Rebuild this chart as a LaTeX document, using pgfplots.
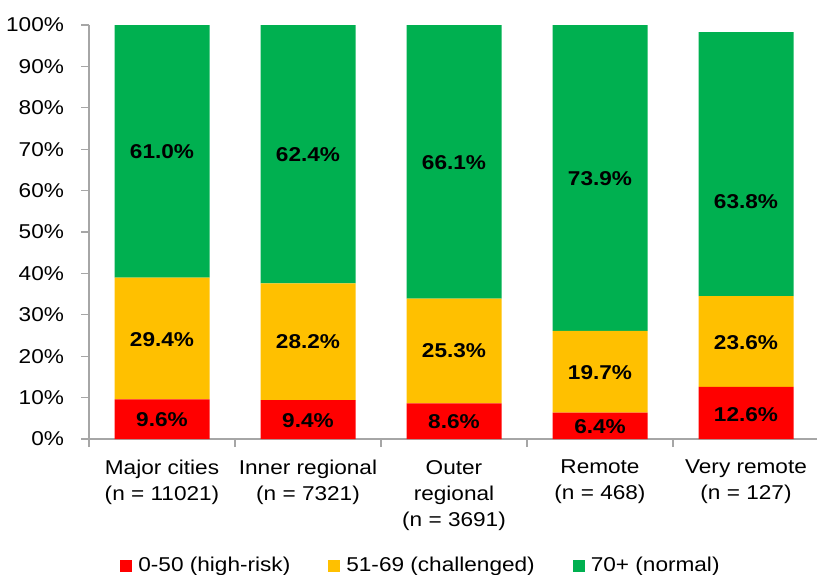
\documentclass[border=0pt]{standalone}
\usepackage{pgfplots}
\pgfplotsset{compat=1.18}
\usepackage{pgfplotstable}
\usepackage{fontspec}
\setmainfont{Liberation Sans}[FakeStretch=1.13]
\definecolor{cRed}{HTML}{FF0000}
\definecolor{cYel}{HTML}{FFC000}
\definecolor{cGrn}{HTML}{00B050}
\definecolor{axgray}{HTML}{A6A6A6}

\pgfplotstableread{
x red yellow green
0 9.6 29.4 61.0
1 9.4 28.2 62.4
2 8.6 25.3 66.1
3 6.4 19.7 73.9
4 12.6 21.9 63.8
}\bars

\pgfplotstableread{
x y v
0 4.7 9.6
0 24.0 29.4
0 69.3 61.0
1 4.5 9.4
1 23.5 28.2
1 68.8 62.4
2 4.3 8.6
2 21.3 25.3
2 66.8 66.1
3 3.1 6.4
3 16.1 19.7
3 62.8 73.9
4 6.0 12.6
4 23.3 23.6
4 57.3 63.8
}\labs

\begin{document}
\fontsize{10}{13}\selectfont
\begin{tikzpicture}
\pgfplotsset{
  base/.style={
    scale only axis, width=365pt, height=207pt,
    xmin=-0.5, xmax=4.5, ymin=0, ymax=100,
  },
  sq/.style={legend image code/.code={\fill[##1] (0pt,-3pt) rectangle (6pt,3pt);}},
}
\begin{axis}[base,
  ybar stacked, bar width=47.5pt,
  axis x line=bottom, axis y line=left,
  axis line style={draw=axgray, line width=0.6pt, -},
  tick align=outside, major tick length=4pt,
  tick style={draw=axgray, line width=0.6pt},
  ytick={0,10,...,100},
  yticklabels={0\%,10\%,20\%,30\%,40\%,50\%,60\%,70\%,80\%,90\%,100\%},
  yticklabel style={font=\fontsize{10}{13}\selectfont, xshift=-5pt},
  xtick={-0.5,0.5,...,4.5}, xticklabels={},
  extra x ticks={0,1,2,3,4},
  extra x tick labels={Major cities\\(n = 11021),Inner regional\\(n = 7321),Outer\\regional\\(n = 3691),Remote\\(n = 468),Very remote\\(n = 127)},
  extra x tick style={major tick length=0pt, xticklabel style={align=center, font=\fontsize{10}{13}\selectfont, yshift=-7pt}},
  legend style={draw=none, at={(0.4575,-0.307)}, anchor=center, legend columns=-1,
    font=\fontsize{10}{13}\selectfont,
    /tikz/every even column/.append style={column sep=16pt},
    nodes={inner xsep=3pt}},
]
\addplot[fill=cRed, draw=none, sq] table[x=x, y=red] {\bars};
\addlegendentry{0-50 (high-risk)}
\addplot[fill=cYel, draw=none, sq] table[x=x, y=yellow] {\bars};
\addlegendentry{51-69 (challenged)}
\addplot[fill=cGrn, draw=none, sq] table[x=x, y=green] {\bars};
\addlegendentry{70+ (normal)}
\end{axis}
\begin{axis}[base, hide axis]
\addplot[draw=none, mark=none, nodes near coords, point meta=explicit,
  nodes near coords={\pgfmathprintnumber[fixed, fixed zerofill, precision=1, assume math mode=true]{\pgfplotspointmeta}\%},
  every node near coord/.style={anchor=center, font=\fontsize{10}{13}\selectfont\bfseries}]
  table[x=x, y=y, meta=v] {\labs};
\end{axis}
\pgfresetboundingbox
\path (-44.5pt,219.5pt) rectangle (364pt,-67.5pt);
\end{tikzpicture}
\end{document}
